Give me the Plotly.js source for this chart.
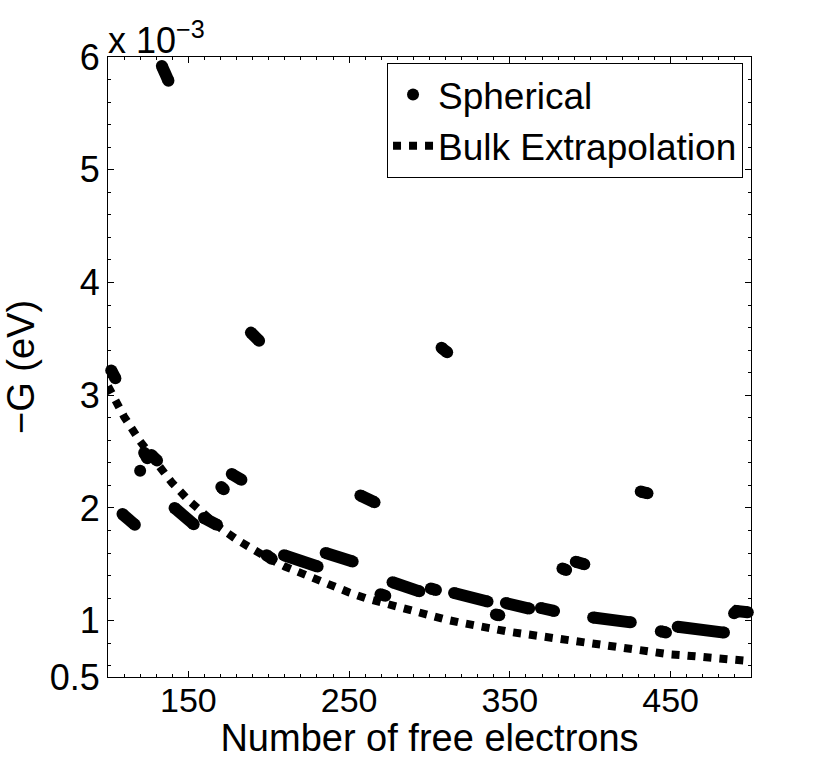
<!DOCTYPE html>
<html>
<head>
<meta charset="utf-8">
<script src="https://cdn.plot.ly/plotly-3.0.1.min.js"></script>
<style>
  body { margin: 0; background: #fff; }
  #chart { width: 830px; height: 759px; }
</style>
</head>
<body>
<div id="chart"></div>
<script>
// values in units of 1e-3 eV
const sphN = [102, 104.6, null, 109, 116.7, null, 120, null, 122.5, 124.5, null, 127, 130.5, null,
  133.5, 137.6, null, 141.4, 153.3, null, 159.7, 167.8, null, 170.5, 172, null, 177, 183, null,
  188.9, 194, null, 198.7, 201.8, null, 209.5, 230.4, null, 235.4, 252.2, null, 257, 265.8, null,
  269.5, 272.5, null, 277, 293.7, null, 300.8, 304, null, 307.5, 311, null, 315.3, 336.1, null,
  341.3, 343.4, null, 347.5, 362, null, 369.3, 377.5, null, 382.7, 385, null, 391, 396.3, null,
  401.8, 425.2, null, 431.4, 435.6, null, 443.9, 447.1, null, 454.4, 483.2, null, 489.5, 491, 498];
const sphG = [3.22, 3.15, null, 1.945, 1.85, null, 2.33, null, 2.49, 2.44, null, 2.47, 2.42, null,
  5.92, 5.79, null, 2.0, 1.855, null, 1.91, 1.85, null, 2.185, 2.165, null, 2.30, 2.25, null,
  3.555, 3.483, null, 1.58, 1.55, null, 1.58, 1.48, null, 1.60, 1.525, null, 2.11, 2.05, null,
  1.235, 1.22, null, 1.34, 1.26, null, 1.286, 1.272, null, 3.42, 3.38, null, 1.245, 1.17, null,
  1.055, 1.047, null, 1.156, 1.107, null, 1.112, 1.086, null, 1.462, 1.45, null, 1.523, 1.50, null,
  1.028, 0.985, null, 2.145, 2.13, null, 0.905, 0.895, null, 0.946, 0.894, null, 1.065, 1.085, 1.075];

const bulkN = [100, 110, 120, 130, 140, 150, 160, 170, 180, 190, 200, 210, 220, 230, 240, 250,
  260, 270, 280, 290, 300, 310, 320, 330, 340, 350, 360, 370, 380, 390, 400, 410, 420, 430, 440,
  450, 460, 470, 480, 490, 500];
const bulkG = [3.08, 2.81, 2.59, 2.39, 2.22, 2.07, 1.94, 1.82, 1.72, 1.63, 1.55, 1.48, 1.42,
  1.36, 1.30, 1.25, 1.20, 1.16, 1.12, 1.08, 1.05, 1.01, 0.98, 0.95, 0.93, 0.90, 0.88, 0.86, 0.83,
  0.81, 0.79, 0.77, 0.75, 0.73, 0.715, 0.70, 0.69, 0.675, 0.66, 0.65, 0.64];

const xTicks = [150, 250, 350, 450];
const yTicks = [0.5, 1, 2, 3, 4, 5, 6];

const font = 'Liberation Sans, Arial, Helvetica, sans-serif';

let traces = [
  {
    x: sphN, y: sphG,
    mode: 'lines+markers',
    line: { color: '#000', width: 12 },
    marker: { color: '#000', size: 12 },
    connectgaps: false,
    cliponaxis: false,
    showlegend: false,
    hoverinfo: 'skip'
  },
  // legend entry only
  {
    x: [null], y: [null],
    name: 'Spherical',
    mode: 'markers',
    marker: { color: '#000', size: 12 }
  },
  {
    x: bulkN, y: bulkG,
    name: 'Bulk Extrapolation',
    mode: 'lines',
    line: { color: '#000', width: 8, dash: 'dot' }
  }
];

let axisCommon = {
  showline: true,
  linecolor: '#000',
  linewidth: 1,
  mirror: 'ticks',
  ticks: 'inside',
  ticklen: 6,
  tickcolor: '#000',
  showgrid: false,
  zeroline: false,
  tickfont: { family: font, size: 36, color: '#000' }
};

let layout = {
  width: 830,
  height: 759,
  margin: { l: 108, r: 79, t: 57, b: 82 },
  paper_bgcolor: '#fff',
  plot_bgcolor: '#fff',
  font: { family: font, color: '#000' },
  xaxis: Object.assign({}, axisCommon, {
    range: [100, 500],
    tickmode: 'array',
    tickvals: xTicks,
    tickfont: { family: font, size: 34, color: '#000' },
    ticklabelstandoff: -7,
    minor: { ticks: 'inside', ticklen: 3, tickcolor: '#000', dtick: 10, tick0: 0 },
    title: { text: 'Number of free electrons', font: { family: font, size: 38, color: '#000' }, standoff: 0 }
  }),
  yaxis: Object.assign({}, axisCommon, {
    range: [0.5, 6],
    tickmode: 'array',
    tickvals: yTicks,
    minor: { ticks: 'inside', ticklen: 3, tickcolor: '#000', dtick: 0.2, tick0: 0 },
    title: { text: '\u2212G (eV)', font: { family: font, size: 38, color: '#000' }, standoff: 7 }
  }),
  legend: {
    x: 0.9876, y: 0.9903,
    xanchor: 'right', yanchor: 'top',
    bgcolor: '#fff',
    bordercolor: '#000',
    borderwidth: 1,
    itemwidth: 40,
    font: { family: font, size: 37, color: '#000' },
    tracegroupgap: 0
  },
  annotations: [{
    xref: 'paper', yref: 'paper',
    x: 0, y: 1,
    xanchor: 'left', yanchor: 'bottom',
    showarrow: false,
    text: 'x 10<sup>\u22123</sup>',
    font: { family: font, size: 36, color: '#000' },
    xshift: -2, yshift: -6
  }]
};

Plotly.newPlot('chart', traces, layout, { staticPlot: true });
</script>
</body>
</html>
